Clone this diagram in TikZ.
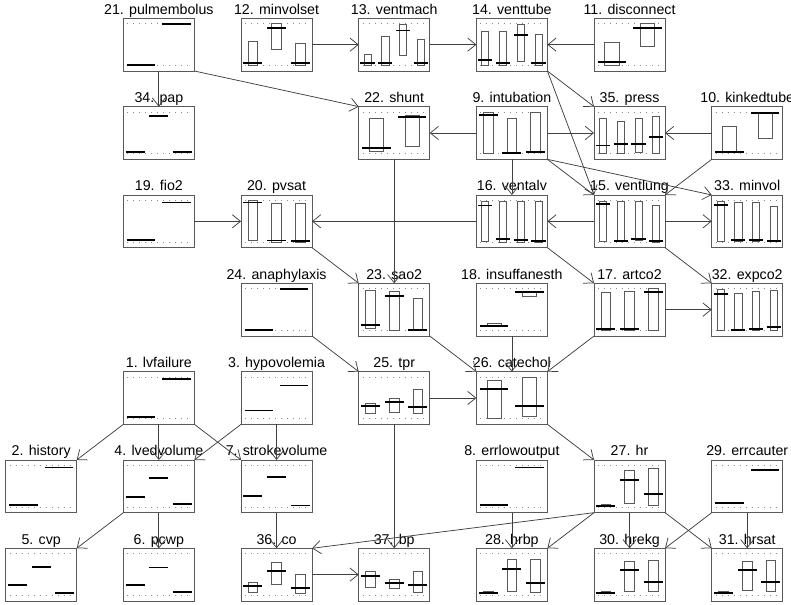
\documentclass[tikz,border=0pt]{standalone}
\usepackage{fontspec}
\setmainfont{Liberation Sans}
\usetikzlibrary{arrows.meta}

% one chart node: name, column, row, number of states, label, states min/max/mean
\newcommand{\chartnode}[6]{%
  \pgfmathsetmacro\boxx{5.7+117.67*(#2-1)}%
  \pgfmathsetmacro\boxy{18.3+88.33*(#3-1)}%
  \pgfmathsetmacro\slotw{71/#4}%
  \node[chartbox] (#1) at (\boxx+35.5,\boxy+26.35) {};
  \node[chartlabel] (#1-label) at (\boxx+35.5,\boxy-4.2) {#5};
  \draw[griddots] (\boxx+4,\boxy+5.5) -- (\boxx+67,\boxy+5.5)
                  (\boxx+4,\boxy+47.2) -- (\boxx+67,\boxy+47.2);
  \foreach \pmin/\pmax/\pmean [count=\i] in {#6} {
    \pgfmathsetmacro\slotx{\boxx+(\i-0.5)*\slotw}
    \draw[probbar] (\slotx-0.2*\slotw,\boxy+47.2-41.7*\pmin) rectangle (\slotx+0.2*\slotw,\boxy+47.2-41.7*\pmax);
    \draw[probmean] (\slotx-0.4*\slotw,\boxy+47.2-41.7*\pmean) -- (\slotx+0.4*\slotw,\boxy+47.2-41.7*\pmean);
  }%
}

\begin{document}
\begin{tikzpicture}[x=1pt,y=-1pt,
  chartbox/.style={draw=black!65,line width=0.8pt,rectangle,minimum width=71pt,minimum height=52.7pt,inner sep=0pt,outer sep=0pt},
  chartlabel/.style={anchor=base,inner sep=0pt,font=\fontsize{14.2}{16}\selectfont},
  griddots/.style={black!45,line width=0.9pt,dash pattern=on 0.9pt off 5.1pt},
  probbar/.style={draw=black!65,line width=0.7pt},
  probmean/.style={black,line width=1.9pt},
  edge/.style={black!75,line width=0.75pt,-{Straight Barb[angle=78:10.5pt]}}]
  \useasboundingbox (0,0) rectangle (791,604);

  \chartnode{pulmembolus}{2}{1}{2}{21. pulmembolus}{0.01/0.01/0.01, 0.99/0.99/0.99}
  \chartnode{minvolset}{3}{1}{3}{12. minvolset}{0/0.57/0.05, 0.39/1/0.91, 0/0.53/0.05}
  \chartnode{ventmach}{4}{1}{4}{13. ventmach}{0/0.27/0.05, 0/0.71/0.05, 0.25/0.99/0.84, 0/0.63/0.05}
  \chartnode{venttube}{5}{1}{4}{14. venttube}{0/0.83/0.13, 0/0.83/0.05, 0.10/0.99/0.74, 0/0.75/0.05}
  \chartnode{disconnect}{6}{1}{2}{11. disconnect}{0/0.55/0.09, 0.45/1/0.91}

  \chartnode{pap}{2}{2}{3}{34. pap}{0.05/0.05/0.05, 0.9/0.9/0.9, 0.05/0.05/0.05}
  \chartnode{shunt}{4}{2}{2}{22. shunt}{0.05/0.86/0.13, 0.19/0.92/0.89}
  \chartnode{intubation}{5}{2}{3}{9. intubation}{0/1/0.94, 0.03/0.86/0.03, 0.05/1/0.05}
  \chartnode{press}{6}{2}{4}{35. press}{0.01/0.84/0.2, 0.01/0.77/0.23, 0.03/0.86/0.23, 0.01/0.89/0.40}
  \chartnode{kinkedtube}{7}{2}{2}{10. kinkedtube}{0.03/0.66/0.05, 0.36/1/0.98}

  \chartnode{fio2}{2}{3}{2}{19. fio2}{0.05/0.05/0.05, 0.95/0.95/0.95}
  \chartnode{pvsat}{3}{3}{3}{20. pvsat}{0.05/1/0.95, 0/0.93/0.04, 0/0.93/0.03}
  \chartnode{ventalv}{5}{3}{4}{16. ventalv}{0.01/0.99/0.88, 0/0.99/0.08, 0/0.99/0.05, 0/0.97/0.03}
  \chartnode{ventlung}{6}{3}{4}{15. ventlung}{0.01/0.99/0.91, 0.03/0.97/0.03, 0.04/0.99/0.08, 0/0.89/0.03}
  \chartnode{minvol}{7}{3}{4}{33. minvol}{0.03/0.97/0.89, 0.03/0.96/0.05, 0.03/0.96/0.05, 0.01/0.85/0.03}

  \chartnode{anaphylaxis}{3}{4}{2}{24. anaphylaxis}{0.01/0.01/0.01, 0.99/0.99/0.99}
  \chartnode{sao2}{4}{4}{3}{23. sao2}{0.05/0.97/0.13, 0.01/0.93/0.83, 0.01/0.77/0.01}
  \chartnode{insuffanesth}{5}{4}{2}{18. insuffanesth}{0.09/0.17/0.11, 0.83/0.95/0.92}
  \chartnode{artco2}{6}{4}{3}{17. artco2}{0/0.91/0.03, 0/0.95/0.04, 0/1/0.93}
  \chartnode{expco2}{7}{4}{4}{32. expco2}{0.01/0.99/0.88, 0/0.88/0.01, 0/0.93/0.03, 0/0.97/0.08}

  \chartnode{lvfailure}{2}{5}{2}{1. lvfailure}{0.05/0.05/0.05, 0.95/0.95/0.95}
  \chartnode{hypovolemia}{3}{5}{2}{3. hypovolemia}{0.2/0.2/0.2, 0.8/0.8/0.8}
  \chartnode{tpr}{4}{5}{3}{25. tpr}{0.13/0.37/0.31, 0.16/0.49/0.41, 0.13/0.71/0.29}
  \chartnode{catechol}{5}{5}{2}{26. catechol}{0/0.92/0.71, 0.07/1/0.31}

  \chartnode{history}{1}{6}{2}{2. history}{0.05/0.05/0.05, 0.95/0.95/0.95}
  \chartnode{lvedvolume}{2}{6}{3}{4. lvedvolume}{0.25/0.25/0.25, 0.7/0.7/0.7, 0.08/0.08/0.08}
  \chartnode{strokevolume}{3}{6}{3}{7. strokevolume}{0.26/0.26/0.26, 0.72/0.72/0.72, 0.04/0.04/0.04}
  \chartnode{errlowoutput}{5}{6}{2}{8. errlowoutput}{0.05/0.05/0.05, 0.95/0.95/0.95}
  \chartnode{hr}{6}{6}{3}{27. hr}{0.01/0.06/0.03, 0.08/0.89/0.66, 0.05/0.92/0.31}
  \chartnode{errcauter}{7}{6}{2}{29. errcauter}{0.1/0.1/0.1, 0.9/0.9/0.9}

  \chartnode{cvp}{1}{7}{3}{5. cvp}{0.25/0.25/0.25, 0.69/0.69/0.69, 0.06/0.06/0.06}
  \chartnode{pcwp}{2}{7}{3}{6. pcwp}{0.25/0.25/0.25, 0.67/0.67/0.67, 0.08/0.08/0.08}
  \chartnode{co}{3}{7}{3}{36. co}{0.08/0.31/0.22, 0.27/0.79/0.58, 0.05/0.51/0.19}
  \chartnode{bp}{4}{7}{3}{37. bp}{0.19/0.58/0.46, 0.17/0.39/0.29, 0.08/0.59/0.25}
  \chartnode{hrbp}{5}{7}{3}{28. hrbp}{0.04/0.11/0.07, 0.11/0.87/0.63, 0.07/0.87/0.31}
  \chartnode{hrekg}{6}{7}{3}{30. hrekg}{0.05/0.09/0.07, 0.11/0.83/0.61, 0.11/0.85/0.33}
  \chartnode{hrsat}{7}{7}{3}{31. hrsat}{0.05/0.09/0.07, 0.13/0.83/0.61, 0.11/0.85/0.33}

  \draw[edge] (pulmembolus.south) -- (pap.north);
  \draw[edge] (pulmembolus.south east) -- (shunt.north west);
  \draw[edge] (minvolset.east) -- (ventmach.west);
  \draw[edge] (ventmach.east) -- (venttube.west);
  \draw[edge] (disconnect.west) -- (venttube.east);
  \draw[edge] (venttube.south east) -- (press.north west);
  \draw[edge] (venttube.south east) -- (ventlung.north west);
  \draw[edge] (intubation.west) -- (shunt.east);
  \draw[edge] (intubation.east) -- (press.west);
  \draw[edge] (kinkedtube.west) -- (press.east);
  \draw[edge] (kinkedtube.south west) -- (ventlung.north east);
  \draw[edge] (intubation.south) -- (ventalv.north);
  \draw[edge] (intubation.south east) -- (ventlung.north west);
  \draw[edge] (intubation.south east) -- (minvol.north west);
  \draw[edge] (ventlung.east) -- (minvol.west);
  \draw[edge] (ventlung.west) -- (ventalv.east);
  \draw[edge] (ventalv.west) -- (pvsat.east);
  \draw[edge] (fio2.east) -- (pvsat.west);
  \draw[edge] (shunt.south) -- (sao2.north);
  \draw[edge] (pvsat.south east) -- (sao2.north west);
  \draw[edge] (ventalv.south east) -- (artco2.north west);
  \draw[edge] (ventlung.south east) -- (expco2.north west);
  \draw[edge] (artco2.east) -- (expco2.west);
  \draw[edge] (anaphylaxis.south east) -- (tpr.north west);
  \draw[edge] (tpr.east) -- (catechol.west);
  \draw[edge] (sao2.south east) -- (catechol.north west);
  \draw[edge] (insuffanesth.south) -- (catechol.north);
  \draw[edge] (artco2.south west) -- (catechol.north east);
  \draw[edge] (catechol.south east) -- (hr.north west);
  \draw[edge] (tpr.south) -- (bp.north);
  \draw[edge] (lvfailure.south west) -- (history.north east);
  \draw[edge] (lvfailure.south) -- (lvedvolume.north);
  \draw[edge] (lvfailure.south east) -- (strokevolume.north west);
  \draw[edge] (hypovolemia.south west) -- (lvedvolume.north east);
  \draw[edge] (hypovolemia.south) -- (strokevolume.north);
  \draw[edge] (lvedvolume.south west) -- (cvp.north east);
  \draw[edge] (lvedvolume.south) -- (pcwp.north);
  \draw[edge] (strokevolume.south) -- (co.north);
  \draw[edge] (co.east) -- (bp.west);
  \draw[edge] (hr.south west) -- (co.north east);
  \draw[edge] (hr.south west) -- (hrbp.north east);
  \draw[edge] (errlowoutput.south) -- (hrbp.north);
  \draw[edge] (hr.south) -- (hrekg.north);
  \draw[edge] (hr.south east) -- (hrsat.north west);
  \draw[edge] (errcauter.south west) -- (hrekg.north east);
  \draw[edge] (errcauter.south) -- (hrsat.north);
\end{tikzpicture}
\end{document}
